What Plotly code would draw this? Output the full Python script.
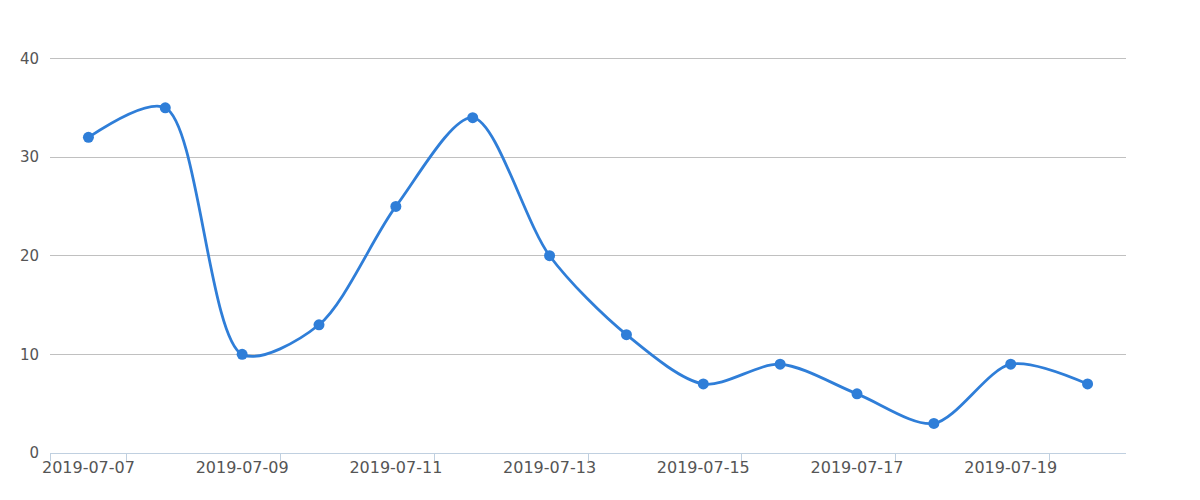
import plotly.graph_objects as go

dates = ["2019-07-07", "2019-07-08", "2019-07-09", "2019-07-10", "2019-07-11",
         "2019-07-12", "2019-07-13", "2019-07-14", "2019-07-15", "2019-07-16",
         "2019-07-17", "2019-07-18", "2019-07-19", "2019-07-20"]
values = [32, 35, 10, 13, 25, 34, 20, 12, 7, 9, 6, 3, 9, 7]
y_ticks = [0, 10, 20, 30, 40]

idx = list(range(len(dates)))
label_idx = idx[::2]
boundary_ticks = [-0.5] + [i + 0.5 for i in label_idx]

fig = go.Figure()
fig.add_trace(go.Scatter(
    x=idx, y=values, mode="lines+markers",
    line=dict(color="#2f7ed8", width=2.8, shape="spline", smoothing=0.85),
    marker=dict(color="#2f7ed8", size=11),
    hoverinfo="text",
    text=[f"{d}: {v}" for d, v in zip(dates, values)],
    showlegend=False,
))

fig.update_layout(
    width=1200, height=500,
    margin=dict(l=42, r=82, t=47.5, b=55),
    paper_bgcolor="white", plot_bgcolor="white",
    font=dict(family="DejaVu Sans", size=15, color="#555555"),
    xaxis=dict(
        range=[-0.5, len(dates) - 0.5],
        tickmode="array", tickvals=label_idx,
        ticktext=[dates[i] for i in label_idx],
        tickfont=dict(size=16),
        ticks="", showgrid=False, zeroline=False,
        showline=True, linecolor="#c0d0e0", linewidth=1,
        ticklabelstandoff=0,
        automargin=False,
        minor=dict(tickmode="array", tickvals=boundary_ticks, ticks="outside",
                   ticklen=7, tickcolor="#c0d0e0", tickwidth=1, showgrid=False),
        fixedrange=True,
    ),
    yaxis=dict(
        range=[0, 40.25], tickmode="array", tickvals=y_ticks,
        showgrid=True, gridcolor="#c0c0c0", gridwidth=1,
        zeroline=False, showline=False, ticks="",
        ticklabelstandoff=10, automargin=False,
        fixedrange=True,
    ),
)

fig.write_html("out.html")
